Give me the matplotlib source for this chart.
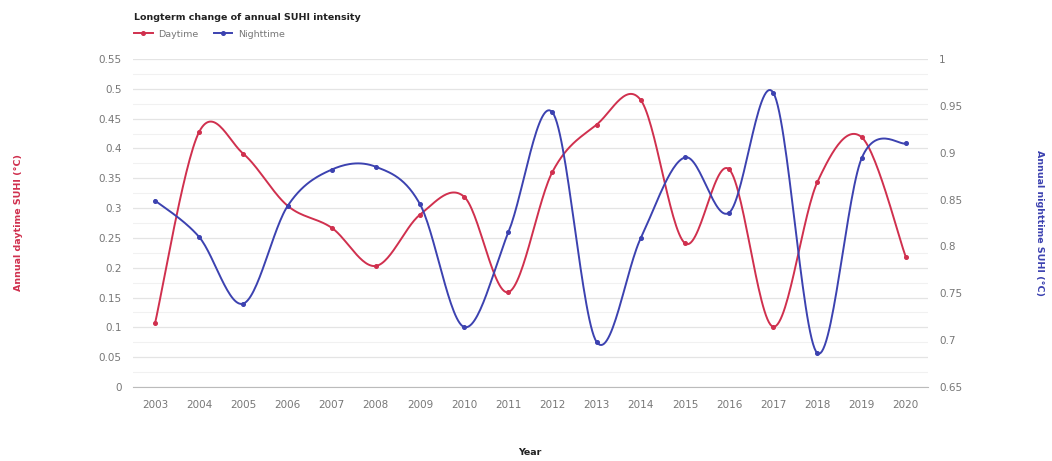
import numpy as np
import matplotlib
matplotlib.use("Agg")
import matplotlib.pyplot as plt
from matplotlib.ticker import FuncFormatter, MultipleLocator
from matplotlib.lines import Line2D

years = list(range(2003, 2021))
daytime = [0.107, 0.428, 0.391, 0.304, 0.267, 0.203, 0.289, 0.319, 0.159,
           0.361, 0.440, 0.481, 0.241, 0.365, 0.101, 0.344, 0.419, 0.218]
nighttime = [0.849, 0.810, 0.739, 0.843, 0.882, 0.885, 0.845, 0.714, 0.815,
             0.943, 0.698, 0.809, 0.895, 0.836, 0.964, 0.686, 0.894, 0.910]

day_color = "#d0304e"
night_color = "#3c42b0"
tick_color = "#777777"


def smooth(x, y, n=30, tension=0.5):
    """Cardinal spline through the points (curved line rendering)."""
    x = np.asarray(x, float)
    y = np.asarray(y, float)
    xs, ys = [], []
    for i in range(len(x) - 1):
        p0 = i - 1 if i > 0 else i
        p3 = i + 2 if i + 2 < len(x) else i + 1
        m1x = tension * (x[i + 1] - x[p0])
        m1y = tension * (y[i + 1] - y[p0])
        m2x = tension * (x[p3] - x[i])
        m2y = tension * (y[p3] - y[i])
        t = np.linspace(0, 1, n, endpoint=(i == len(x) - 2))
        h00 = 2 * t**3 - 3 * t**2 + 1
        h10 = t**3 - 2 * t**2 + t
        h01 = -2 * t**3 + 3 * t**2
        h11 = t**3 - t**2
        xs.append(h00 * x[i] + h10 * m1x + h01 * x[i + 1] + h11 * m2x)
        ys.append(h00 * y[i] + h10 * m1y + h01 * y[i + 1] + h11 * m2y)
    return np.concatenate(xs), np.concatenate(ys)


fig = plt.figure(figsize=(10.52, 4.61), dpi=100)
ax = fig.add_axes([0.1264, 0.1605, 0.7556, 0.7115])
ax2 = ax.twinx()

ax.set_xlim(2002.5, 2020.5)
ax.set_ylim(0, 0.55)
ax2.set_ylim(0.65, 1.0)

# gridlines
ax.yaxis.set_major_locator(MultipleLocator(0.05))
ax.yaxis.set_minor_locator(MultipleLocator(0.025))
ax.grid(axis="y", which="major", color="#e4e4e4", linewidth=0.9)
ax.grid(axis="y", which="minor", color="#f1f1f1", linewidth=0.8)
ax.set_axisbelow(True)

sx, sy = smooth(years, daytime)
nx, ny = smooth(years, nighttime)
ax.plot(sx, sy, color=day_color, linewidth=1.4, zorder=3)
ax.plot(years, daytime, "o", color=day_color, markersize=2.6, zorder=4)
ax2.plot(nx, ny, color=night_color, linewidth=1.4, zorder=3)
ax2.plot(years, nighttime, "o", color=night_color, markersize=2.6, zorder=4)

fmt = FuncFormatter(lambda v, p: ("%.3f" % v).rstrip("0").rstrip("."))
ax.yaxis.set_major_formatter(fmt)
ax2.yaxis.set_major_locator(MultipleLocator(0.05))
ax2.yaxis.set_major_formatter(fmt)

ax.set_xticks(years)
ax.set_xticklabels([str(y) for y in years])

for a in (ax, ax2):
    for s in a.spines.values():
        s.set_visible(False)
    a.tick_params(axis="both", which="both", length=0, labelsize=7.5,
                  labelcolor=tick_color)
ax.spines["bottom"].set_visible(True)
ax.spines["bottom"].set_color("#bbbbbb")
ax.tick_params(axis="x", pad=9)
ax.tick_params(axis="y", pad=8)
ax2.tick_params(axis="y", pad=8)

fig.text(0.504, 0.018, "Year", fontsize=6.8, fontweight="bold",
         color="#222222", ha="center", va="center")
fig.text(0.018, 0.518, "Annual daytime SUHI (°C)", rotation=90,
         color=day_color, fontsize=6.8, fontweight="bold",
         ha="center", va="center")
fig.text(0.988, 0.516, "Annual nighttime SUHI (°C)", rotation=270,
         color=night_color, fontsize=6.8, fontweight="bold",
         ha="center", va="center")

fig.text(0.127, 0.963, "Longterm change of annual SUHI intensity",
         fontsize=6.8, fontweight="bold", color="#222222", va="center")

handles = [Line2D([0], [0], color=day_color, lw=1.4, marker="o", markersize=2.6),
           Line2D([0], [0], color=night_color, lw=1.4, marker="o", markersize=2.6)]
fig.legend(handles, ["Daytime", "Nighttime"], loc="center left",
           bbox_to_anchor=(0.119, 0.926), ncol=2, frameon=False,
           fontsize=6.8, labelcolor="#777777", handlelength=2.0,
           handletextpad=0.6, columnspacing=1.6)

fig.savefig("out.png", dpi=100, facecolor="white")
